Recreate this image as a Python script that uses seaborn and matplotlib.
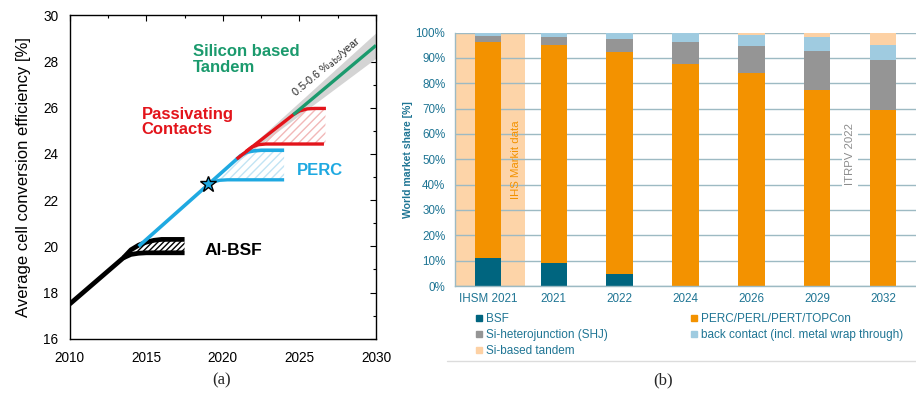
import matplotlib
matplotlib.use("Agg")
import matplotlib.pyplot as plt
from matplotlib.lines import Line2D
import numpy as np
import pandas as pd
import seaborn as sns

# ---- panel (a): efficiency roadmap ----
bsf_up_yr = [2010.0, 2013.5, 2014.0, 2014.5, 2015.0, 2015.5, 2016.0, 2017.5]
bsf_up_eff = [17.5, 19.5, 19.85, 20.05, 20.18, 20.26, 20.3, 20.3]
bsf_lo_yr = [2013.5, 2014.0, 2014.5, 2015.0, 2017.5]
bsf_lo_eff = [19.5, 19.65, 19.7, 19.72, 19.72]

perc_trunk_yr = [2014.5, 2019.05, 2021.2]
perc_trunk_eff = [20.0, 22.68, 23.95]
perc_up_yr = [2021.2, 2021.6, 2022.0, 2022.5, 2024.0]
perc_up_eff = [23.95, 24.08, 24.13, 24.16, 24.16]
perc_lo_yr = [2019.05, 2019.4, 2019.8, 2020.3, 2024.0]
perc_lo_eff = [22.68, 22.8, 22.86, 22.88, 22.88]

pc_up_yr = [2020.9, 2024.6, 2025.0, 2025.5, 2026.0, 2026.73]
pc_up_eff = [23.78, 25.7, 25.86, 25.95, 25.97, 25.97]
pc_lo_yr = [2021.5, 2021.9, 2022.3, 2022.8, 2026.6]
pc_lo_eff = [24.1, 24.3, 24.4, 24.43, 24.43]

tandem_yr = [2024.6, 2030.0]
tandem_eff = [25.7, 28.7]
band_yr = [2021.0, 2030.0]
band_lo = [23.7, 28.15]
band_hi = [23.85, 29.25]

star_yr, star_eff = 2019.05, 22.68

# ---- panel (b): world market share [%] ----
categories = ["IHSM 2021", "2021", "2022", "2024", "2026", "2029", "2032"]
bsf = [10.9, 8.9, 4.6, 0.0, 0.0, 0.0, 0.0]
perc = [85.5, 86.0, 87.7, 87.6, 83.9, 77.2, 69.3]
shj = [2.2, 3.2, 5.0, 8.5, 10.8, 15.6, 19.8]
back_contact = [1.1, 1.9, 2.7, 3.9, 4.4, 5.3, 5.8]
tandem = [0.3, 0.0, 0.0, 0.0, 0.9, 1.9, 5.1]

series = [
    ("BSF", bsf, "#00657f"),
    ("PERC/PERL/PERT/TOPCon", perc, "#f39200"),
    ("Si-heterojunction (SHJ)", shj, "#959595"),
    ("back contact (incl. metal wrap through)", back_contact, "#9fcbe0"),
    ("Si-based tandem", tandem, "#fdd1a4"),
]

sns.set_theme(style="white")
plt.rcParams["font.family"] = ["Liberation Sans", "DejaVu Sans"]

fig = plt.figure(figsize=(9.16, 3.95), dpi=100)
ax = fig.add_axes([0.0761, 0.1425, 0.3344, 0.8186])
bx = fig.add_axes([0.4967, 0.2759, 0.5033, 0.6418])

BLACK, BLUE, RED, GREEN = "black", "#1fa9e1", "#e3141b", "#1b9a6d"

# band and hatched regions
ax.fill_between(band_yr, band_lo, band_hi, color="#d4d4d4", lw=0, zorder=1)
x_h = np.linspace(2014.2, 2017.5, 40)
ax.fill_between(x_h, np.interp(x_h, bsf_lo_yr, bsf_lo_eff), np.interp(x_h, bsf_up_yr, bsf_up_eff),
                facecolor="white", edgecolor="black", hatch="//////", lw=0, zorder=1)
x_h = np.linspace(2019.3, 2024.0, 40)
ax.fill_between(x_h, np.interp(x_h, perc_lo_yr, perc_lo_eff),
                np.interp(x_h, perc_trunk_yr[1:] + perc_up_yr[1:], perc_trunk_eff[1:] + perc_up_eff[1:]),
                facecolor="none", edgecolor="#c2e4f4", hatch="////", lw=0, zorder=1)
x_h = np.linspace(2021.8, 2026.7, 40)
ax.fill_between(x_h, np.interp(x_h, pc_lo_yr, pc_lo_eff), np.interp(x_h, pc_up_yr, pc_up_eff),
                facecolor="none", edgecolor="#f2b8b8", hatch="////", lw=0, zorder=1)

for xs, ys, c, lw in [
    (bsf_up_yr, bsf_up_eff, BLACK, 3.4),
    (bsf_lo_yr, bsf_lo_eff, BLACK, 3.4),
    (perc_trunk_yr, perc_trunk_eff, BLUE, 2.6),
    (perc_up_yr, perc_up_eff, BLUE, 2.6),
    (perc_lo_yr, perc_lo_eff, BLUE, 2.4),
    (pc_up_yr, pc_up_eff, RED, 2.4),
    (pc_lo_yr, pc_lo_eff, RED, 2.4),
    (tandem_yr, tandem_eff, GREEN, 2.4),
]:
    sns.lineplot(x=xs, y=ys, color=c, lw=lw, sort=False, errorbar=None, ax=ax,
                 solid_capstyle="butt", zorder=3)
ax.plot([star_yr], [star_eff], marker="*", ms=12, mfc=BLUE, mec="black", mew=1.0, zorder=5)

ax.set_xlim(2010, 2030)
ax.set_ylim(16, 30)
ax.set_xticks([2010, 2015, 2020, 2025, 2030])
ax.set_xticks(np.arange(2010, 2030.1, 2.5), minor=True)
ax.set_yticks(np.arange(16, 30.1, 2))
ax.set_yticks(np.arange(16, 30.1, 1), minor=True)
ax.tick_params(which="both", direction="in", top=True, right=True, colors="black", labelsize=9.8)
ax.tick_params(axis="x", pad=9)
ax.tick_params(axis="y", pad=8)
ax.tick_params(which="major", length=4, width=0.8)
ax.tick_params(which="minor", length=2.5, width=0.8)
for s in ax.spines.values():
    s.set_color("black")
    s.set_linewidth(1.0)
ax.set_ylabel("Average cell conversion efficiency [%]", fontsize=12, color="black", labelpad=9)

ax.text(2018.05, 28.75, "Silicon based\nTandem", color=GREEN, fontsize=12, fontweight="bold",
        ha="left", va="top", linespacing=1.05)
ax.text(2014.7, 26.05, "Passivating\nContacts", color=RED, fontsize=12, fontweight="bold",
        ha="left", va="top", linespacing=1.05)
ax.text(2024.8, 23.6, "PERC", color=BLUE, fontsize=12, fontweight="bold", ha="left", va="top")
ax.text(2018.8, 20.15, "Al-BSF", color="black", fontsize=12.5, fontweight="bold", ha="left", va="top")
ax.text(2026.8, 27.75, "0.5-0.6 %$_{\\rm abs}$/year", fontsize=7.8, rotation=40,
        ha="center", va="center", rotation_mode="anchor")

# ---- panel (b) ----
TEAL = "#1f7594"
GRID = "#9dbac3"
bx.axvspan(-0.5, 0.57, color="#fdd4a8", lw=0, zorder=0.2)

cum = np.zeros(len(categories))
cums = []
for name, vals, col in series:
    cum = cum + np.array(vals)
    cums.append((name, cum.copy(), col))
# draw cumulative totals from tallest to shortest so each segment shows
for name, tot, col in reversed(cums):
    df = pd.DataFrame({"cat": categories, "val": tot})
    sns.barplot(data=df, x="cat", y="val", color=col, width=0.4, saturation=1,
                order=categories, ax=bx, zorder=2, linewidth=0, edgecolor="none")

bx.set_xlim(-0.5, 6.5)
bx.set_ylim(0, 100)
bx.set_yticks(np.arange(0, 101, 10))
bx.set_yticklabels([f"{v}%" for v in range(0, 101, 10)])
bx.set_axisbelow(True)
bx.yaxis.grid(True, color=GRID, lw=1.0, zorder=0.5)
bx.xaxis.grid(False)
bx.tick_params(length=0, labelsize=8.4, labelcolor=TEAL)
bx.tick_params(axis="y", pad=7)
bx.tick_params(axis="x", pad=5)
bx.set_xlabel("")
bx.set_ylabel("World market share [%]", fontsize=7.6, fontweight="bold", color=TEAL, labelpad=2)
for k, s in bx.spines.items():
    s.set_visible(k in ("left", "bottom"))
    s.set_color(GRID)
    s.set_linewidth(1.0)

bx.text(0.42, 50, "IHS Markit data", rotation=90, color="#f39200", fontsize=8.2,
        ha="center", va="center", zorder=3)
bx.text(5.5, 52, "ITRPV 2022", rotation=90, color="#8c8c8c", fontsize=8.2,
        ha="center", va="center", zorder=3,
        bbox=dict(boxstyle="square,pad=0.25", fc="white", ec="none"))

handles = [Line2D([], [], marker="s", ls="none", ms=5, color=col) for _, _, col in series]
labels = [name for name, _, _ in series]
order = [0, 2, 4, 1, 3]
fig.legend([handles[i] for i in order], [labels[i] for i in order], ncol=2,
           loc="upper left", bbox_to_anchor=(0.519, 1 - 313 / 395), frameon=False,
           fontsize=8.5, labelcolor=TEAL, handlelength=0.6, handletextpad=0.3,
           columnspacing=7.0, labelspacing=0.36, borderpad=0, borderaxespad=0)
fig.add_artist(Line2D([0.488, 1.0], [1 - 361 / 395] * 2, color="#dcdcdc", lw=1.0))

fig.text(0.2424, 0.036, "(a)", fontsize=12, family=["Liberation Serif", "DejaVu Serif"],
         ha="center", va="center")
fig.text(0.7238, 0.036, "(b)", fontsize=12, family=["Liberation Serif", "DejaVu Serif"],
         ha="center", va="center")

fig.savefig("out.png", dpi=100)
